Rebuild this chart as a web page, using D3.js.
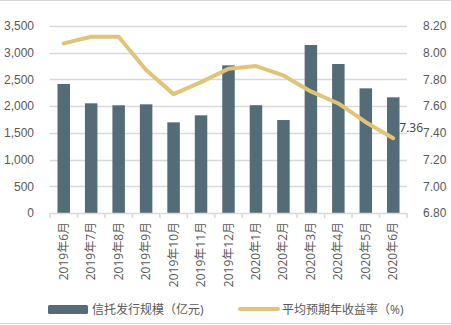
<!DOCTYPE html>
<html><head><meta charset="utf-8">
<script src="https://cdn.jsdelivr.net/npm/d3@7/dist/d3.min.js"></script>
<style>body{margin:0;background:#fff}svg{display:block;font-family:"Open Sans","Noto Sans CJK SC",sans-serif}</style>
</head><body><svg id="c" width="451" height="325"></svg>
<script>
const categories = ["2019年6月","2019年7月","2019年8月","2019年9月","2019年10月","2019年11月","2019年12月","2020年1月","2020年2月","2020年3月","2020年4月","2020年5月","2020年6月"];
const issuance = [2414, 2053, 2015, 2034, 1697, 1828, 2764, 2018, 1740, 3144, 2789, 2333, 2165];
const yieldRate = [8.07, 8.12, 8.12, 7.87, 7.69, 7.78, 7.88, 7.90, 7.83, 7.71, 7.62, 7.48, 7.36];
const leftTicks = [0, 500, 1000, 1500, 2000, 2500, 3000, 3500];
const rightTicks = [6.80, 7.00, 7.20, 7.40, 7.60, 7.80, 8.00, 8.20];
const seriesNames = ["信托发行规模（亿元)", "平均预期年收益率（%)"];

const svg = d3.select("#c");
const L = 50, R = 407, T = 26, B = 213;
const barColor = "#546c78", lineColor = "#e1c477", textColor = "#595959", gridColor = "#d9d9d9";

svg.append("line").attr("x1",0).attr("x2",451).attr("y1",0.5).attr("y2",0.5).attr("stroke","#d9d9d9");
svg.append("line").attr("x1",0).attr("x2",451).attr("y1",323.5).attr("y2",323.5).attr("stroke","#d9d9d9");

const x = d3.scaleBand().domain(categories).range([L, R]).paddingInner(0.545).paddingOuter(0.2725);
const yL = d3.scaleLinear().domain([0, 3500]).range([B, T]);
const yR = d3.scaleLinear().domain([6.8, 8.2]).range([B, T]);

// gridlines
svg.append("g").selectAll("line").data(leftTicks.slice(1)).join("line")
  .attr("x1", L).attr("x2", R).attr("y1", d => Math.round(yL(d))+0.5).attr("y2", d => Math.round(yL(d))+0.5)
  .attr("stroke", gridColor).attr("stroke-width", 1.5);

// left axis
const gl = svg.append("g").attr("transform", `translate(${L},0)`)
  .call(d3.axisLeft(yL).tickValues(leftTicks).tickFormat(d3.format(",")).tickSize(0).tickPadding(16));
gl.select(".domain").remove();
gl.selectAll("text").attr("fill", textColor).style("font-size","12px");

// right axis
const gr = svg.append("g").attr("transform", `translate(${R},0)`)
  .call(d3.axisRight(yR).tickValues(rightTicks).tickFormat(d3.format(".2f")).tickSize(0).tickPadding(16));
gr.select(".domain").remove();
gr.selectAll("text").attr("fill", textColor).style("font-size","12px");

// bars
svg.append("g").selectAll("rect").data(issuance).join("rect")
  .attr("x", (d,i) => x(categories[i])).attr("width", x.bandwidth())
  .attr("y", d => yL(d)).attr("height", d => B - yL(d)).attr("fill", barColor);

// x axis
const step = x.step();
const gx = svg.append("g").attr("transform", `translate(0,${B})`);
gx.append("line").attr("x1", L).attr("x2", R).attr("y1", 0.5).attr("y2", 0.5).attr("stroke", gridColor).attr("stroke-width",1.5);
const bounds = d3.range(categories.length + 1).map(i => L + i * (R - L) / categories.length);
gx.selectAll("line.tk").data(bounds).join("line").attr("class","tk")
  .attr("x1", d => d).attr("x2", d => d).attr("y1", 0).attr("y2", 5).attr("stroke", gridColor).attr("stroke-width",1.5);
gx.selectAll("text").data(categories).join("text")
  .attr("transform", d => `translate(${x(d) + x.bandwidth()/2 + 4},9) rotate(-90)`)
  .attr("text-anchor", "end").attr("fill", textColor).style("font-size","12px").text(d => d);

// line
const line = d3.line().x((d,i) => x(categories[i]) + x.bandwidth()/2).y(d => yR(d));
svg.append("path").datum(yieldRate).attr("d", line).attr("fill","none")
  .attr("stroke", lineColor).attr("stroke-width", 4).attr("stroke-linejoin","round").attr("stroke-linecap","round");

// last label
const li = yieldRate.length - 1;
svg.append("text").attr("x", x(categories[li]) + x.bandwidth()/2 + 6).attr("y", yR(yieldRate[li]) - 6)
  .attr("fill", "#404040").style("font-size","12px").text(yieldRate[li].toFixed(2));

// legend
const lg = svg.append("g");
lg.append("rect").attr("x", 48).attr("y", 305).attr("width", 40).attr("height", 9).attr("rx", 1.5).attr("fill", barColor);
lg.append("text").attr("x", 92).attr("y", 314).attr("fill", textColor).style("font-size","12px").text(seriesNames[0]);
lg.append("line").attr("x1", 240).attr("x2", 278).attr("y1", 309).attr("y2", 309).attr("stroke", lineColor).attr("stroke-width", 4).attr("stroke-linecap","round");
lg.append("text").attr("x", 282).attr("y", 314).attr("fill", textColor).style("font-size","12px").text(seriesNames[1]);
</script></body></html>
